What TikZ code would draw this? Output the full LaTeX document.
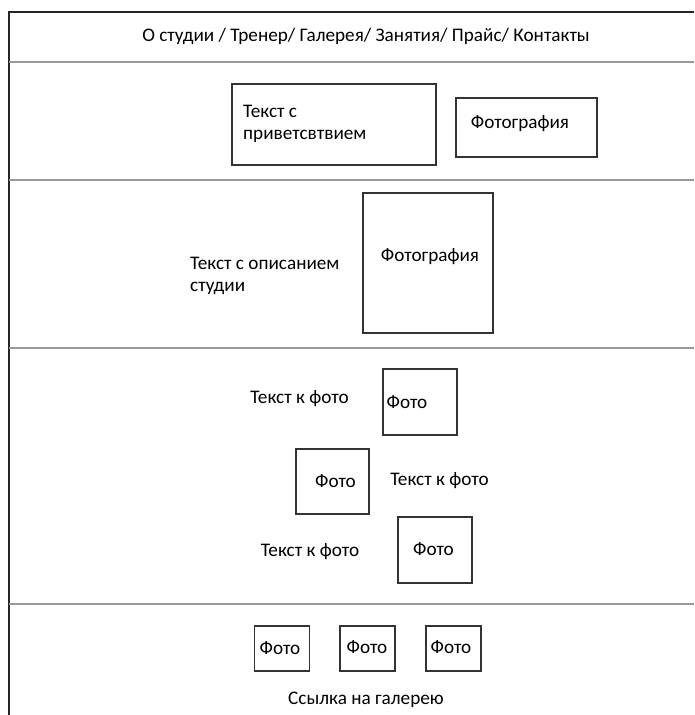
\documentclass[tikz,border=0pt]{standalone}
\usepackage{fontspec}
\setmainfont{Carlito}
\usetikzlibrary{positioning}
\tikzset{
  frame/.style = {draw=black!85, line width=1.5pt},
  divider/.style = {draw=black!40, line width=2pt},
  photo/.style = {rectangle, draw=black!80, line width=1.2pt, inner sep=0pt},
  caption/.style = {inner sep=0pt, font=\fontsize{19.2}{22}\selectfont},
}

\begin{document}
\begin{tikzpicture}[x=1pt, y=-1pt]
  \useasboundingbox (0,0) rectangle (694,715);

  % рамка страницы и разделители блоков
  \draw[frame] (9,715) -- (9,12) -- (694,12);
  \foreach \y in {62,180,348,604}
    \draw[divider] (9,\y) -- (694,\y);

  % меню
  \node (menu) [caption] at (366,36) {О студии / Тренер/ Галерея/ Занятия/ Прайс/ Контакты};

  % приветствие
  \node (hello) [photo, minimum width=204pt, minimum height=81pt] at (334,124.5) {};
  \node (hellotext) [caption, align=left, anchor=west] at (243,124) {Текст с\\приветсвтвием};
  \node (hellophoto) [photo, minimum width=141pt, minimum height=59pt] at (526.5,127.5) {};
  \node (hellophototext) [caption] at (520,124) {Фотография};

  % о студии
  \node (about) [caption, align=left, anchor=west] at (190,276) {Текст с описанием\\студии};
  \node (aboutphoto) [photo, minimum width=130pt, minimum height=140pt] at (428,263) {};
  \node (aboutphototext) [caption] at (430,257) {Фотография};

  % фото с текстом
  \node (t1) [caption] at (299.5,399) {Текст к фото};
  \node (f1) [photo, minimum width=74pt, minimum height=66pt] at (420,402) {};
  \node (f1text) [caption] at (407,402) {Фото};

  \node (f2) [photo, minimum width=73pt, minimum height=65pt] at (332.5,481.5) {};
  \node (f2text) [caption] at (335.5,481) {Фото};
  \node (t2) [caption] at (439.5,481) {Текст к фото};

  \node (t3) [caption] at (310,552) {Текст к фото};
  \node (f3) [photo, minimum width=74pt, minimum height=66pt] at (435,550) {};
  \node (f3text) [caption] at (433.5,549) {Фото};

  % галерея
  \node (g1) [photo, minimum width=55pt, minimum height=45pt] at (282,648.5) {};
  \node (g1text) [caption] at (280,648) {Фото};
  \node (g2) [photo, minimum width=55pt, minimum height=45pt] at (367.5,648.5) {};
  \node (g2text) [caption] at (367,647) {Фото};
  \node (g3) [photo, minimum width=55pt, minimum height=45pt] at (453.5,648.5) {};
  \node (g3text) [caption] at (451,647) {Фото};
  \node (link) [caption] at (366,700) {Ссылка на галерею};

\end{tikzpicture}
\end{document}
